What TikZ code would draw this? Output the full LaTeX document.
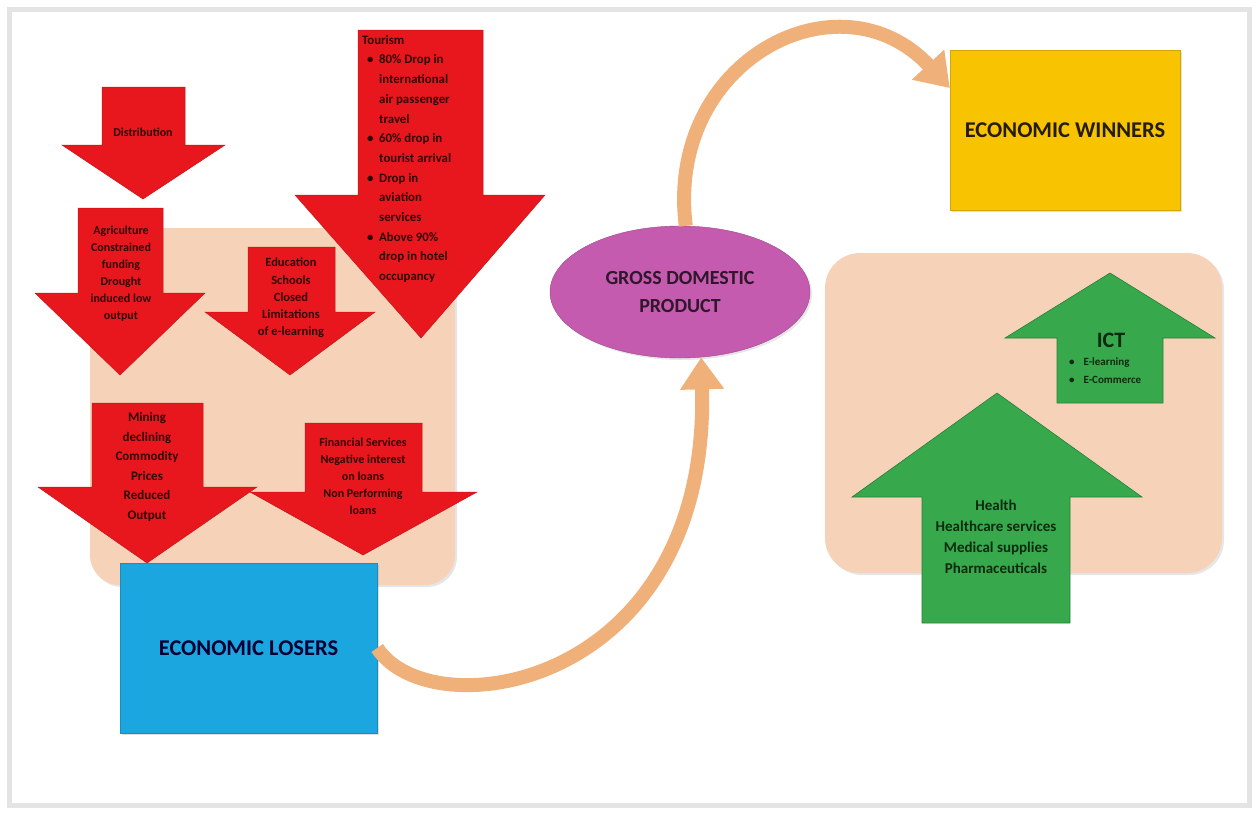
\documentclass[tikz,border=0pt]{standalone}
\usepackage{fontspec}
\setmainfont{Carlito}
\usetikzlibrary{shapes.geometric, arrows.meta, shadows}

\definecolor{peach}{HTML}{F6D3B8}
\definecolor{lossred}{HTML}{E8171D}
\definecolor{losstextcol}{HTML}{2E0505}
\definecolor{gaingreen}{HTML}{37A84C}
\definecolor{gaintextcol}{HTML}{0C2A10}
\definecolor{loserblue}{HTML}{1CA6E0}
\definecolor{winneryellow}{HTML}{F8C300}
\definecolor{gdppurple}{HTML}{C45BAE}
\definecolor{flowtan}{HTML}{F0B07A}
\definecolor{framegrey}{HTML}{E4E4E4}

\newcommand{\tbul}{\hspace*{5pt}\makebox[12pt][l]{\textbullet}}
\newcommand{\tind}{\hspace*{17pt}}

\begin{document}
\begin{tikzpicture}[x=1pt, y=-1pt,
    lossarrow/.style={fill=lossred, draw=lossred!85!black, line width=0.5pt},
    gainarrow/.style={fill=gaingreen, draw=gaingreen!75!black, line width=0.6pt},
    losstext/.style={text=losstextcol, font=\fontsize{12}{17}\selectfont\bfseries, align=center, inner sep=0pt},
    gaintext/.style={text=gaintextcol, font=\fontsize{15}{21}\selectfont\bfseries, align=center, inner sep=0pt},
    bigbox/.style={minimum width=230pt, minimum height=160pt, inner sep=0pt, font=\fontsize{22.5}{27}\selectfont\bfseries,
                   drop shadow={opacity=0.25, shadow xshift=2pt, shadow yshift=-2pt}},
    panel/.style={fill=peach, drop shadow={opacity=0.2, shadow xshift=2pt, shadow yshift=-2pt}},
    flowarrow/.style={draw=flowtan, line width=14pt, -{Triangle[length=32pt, width=42pt]}}]
    \useasboundingbox (0,0) rectangle (1258,814);

    % Frame
    \draw[framegrey, line width=5pt] (9,9) rectangle (1249,805);

    % Panels behind the arrows
    \fill[panel, rounded corners=30pt] (90,228) rectangle (455,585);
    \fill[panel, rounded corners=35pt] (825,253) rectangle (1222,573);

    % Red arrows: sectors hit
    \fill[lossarrow] (102,87) -- (185,87) -- (185,145) -- (225,145) -- (143,199) -- (62,145) -- (102,145) -- cycle;
    \node[losstext] (distribution) at (143,132) {Distribution};

    \fill[lossarrow] (78,208) -- (163,208) -- (163,293) -- (205,293) -- (120,375) -- (35,293) -- (78,293) -- cycle;
    \node[losstext] (agriculture) at (121,274) {Agriculture\\Constrained\\funding\\Drought\\induced low\\output};

    \fill[lossarrow] (248,247) -- (335,247) -- (335,312) -- (375,312) -- (290,375) -- (205,312) -- (248,312) -- cycle;
    \node[losstext, font=\fontsize{12.5}{17.3}\selectfont\bfseries] (education) at (291,298) {Education\\Schools\\Closed\\Limitations\\of e-learning};

    \fill[lossarrow] (358,30) -- (483,30) -- (483,195) -- (545,195) -- (421,338) -- (295,195) -- (358,195) -- cycle;
    \node[losstext, align=left, anchor=west, font=\fontsize{12.8}{19.7}\selectfont\bfseries] (tourism) at (362,159)
        {Tourism\\\tbul 80\% Drop in\\\tind international\\\tind air passenger\\\tind travel\\\tbul 60\% drop in\\\tind tourist arrival\\\tbul Drop in\\\tind aviation\\\tind services\\\tbul Above 90\%\\\tind drop in hotel\\\tind occupancy};

    \fill[lossarrow] (92,403) -- (203,403) -- (203,487) -- (257,487) -- (147,563) -- (38,487) -- (92,487) -- cycle;
    \node[losstext, font=\fontsize{13}{19.6}\selectfont\bfseries] (mining) at (147,467) {Mining\\declining\\Commodity\\Prices\\Reduced\\Output};

    \fill[lossarrow] (305,423) -- (422,423) -- (422,492) -- (477,492) -- (363,555) -- (250,492) -- (305,492) -- cycle;
    \node[losstext] (finance) at (363,476) {Financial Services\\Negative interest\\on loans\\Non Performing\\loans};

    % Losers, GDP and winners
    \node[bigbox, fill=loserblue, draw=loserblue!85!black, minimum width=257pt, minimum height=170pt, text=black!80!blue] (losers) at (248.5,648) {ECONOMIC LOSERS};
    \node[ellipse, fill=gdppurple, draw=gdppurple!80!black, minimum width=260pt, minimum height=132pt, inner sep=0pt,
          drop shadow={opacity=0.2, shadow xshift=2pt, shadow yshift=-2pt},
          align=center, text=black!75!gdppurple, font=\fontsize{20}{28}\selectfont\bfseries] (gdp) at (680,292) {GROSS DOMESTIC\\PRODUCT};
    \node[bigbox, fill=winneryellow, draw=winneryellow!85!black, text=black!85!winneryellow] (winners) at (1065,130) {ECONOMIC WINNERS};

    % Green arrows: sectors that gained
    \fill[gainarrow] (1057,403) -- (1057,338) -- (1005,338) -- (1110,273) -- (1215,338) -- (1163,338) -- (1163,403) -- cycle;
    \node[gaintext, font=\fontsize{22}{24}\selectfont\bfseries] (ict) at (1111,340) {ICT};
    \node[gaintext, align=left, anchor=west, font=\fontsize{11}{18}\selectfont\bfseries] (ictlist) at (1069,371)
        {\textbullet\hspace{9pt}E-learning\\\textbullet\hspace{9pt}E-Commerce};

    \fill[gainarrow] (922,623) -- (922,497) -- (852,497) -- (997,393) -- (1142,497) -- (1070,497) -- (1070,623) -- cycle;
    \node[gaintext] (health) at (996,537) {Health\\Healthcare services\\Medical supplies\\Pharmaceuticals};

    % Flow through GDP
    \draw[flowarrow] (losers.east) .. controls (430,730) and (710,690) .. (gdp.-72);
    \draw[flowarrow] (gdp.85) .. controls (665,60) and (840,-30) .. (winners.160);
\end{tikzpicture}
\end{document}
